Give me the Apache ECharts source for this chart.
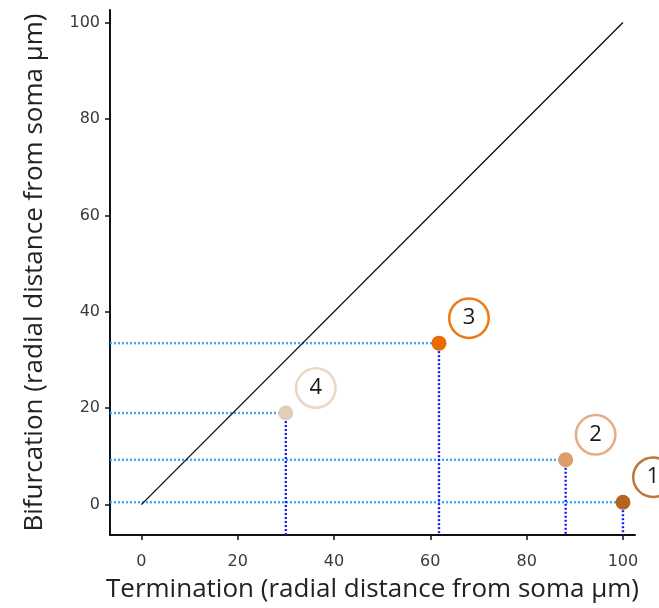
<!DOCTYPE html>
<html>
<head>
<meta charset="utf-8">
<script src="https://cdn.jsdelivr.net/npm/echarts@6/dist/echarts.min.js"></script>
<style>
  html, body { margin: 0; padding: 0; background: #fff; }
  #chart { width: 659px; height: 608px; }
</style>
</head>
<body>
<div id="chart"></div>
<script>
// data
const pointNames = ['1', '2', '3', '4'];
const termination = [100, 88.1, 61.8, 30.0];
const bifurcation = [0.5, 9.3, 33.5, 19.0];
const tickValues = [0, 20, 40, 60, 80, 100];
const diagonal = [[0, 0], [100, 100]];

const pointColors = ['#b5631f', '#de9c66', '#ea6c00', '#e2cdb7'];
const ringColors = ['#c07636', '#e5ae86', '#ee7a14', '#e8d8c6'];

const xMin = -6.5, xMax = 102.5, yMin = -6.3, yMax = 102.6;

let myChart = echarts.init(document.getElementById('chart'));

let series = [];
// dotted guide lines
pointNames.forEach((n, i) => {
  series.push({
    type: 'line',
    silent: true,
    symbol: 'none',
    data: [[xMin, bifurcation[i]], [termination[i], bifurcation[i]]],
    lineStyle: { color: '#3aaaff', width: 2.4, type: [2, 2] },
    z: 2
  });
  series.push({
    type: 'line',
    silent: true,
    symbol: 'none',
    data: [[termination[i], bifurcation[i]], [termination[i], yMin]],
    lineStyle: { color: '#1c1cf5', width: 2.4, type: [2, 2] },
    z: 2
  });
});
// y = x line
series.push({
  type: 'line',
  silent: true,
  symbol: 'none',
  data: diagonal,
  lineStyle: { color: '#111', width: 1.4 },
  z: 3
});
// points with ringed number labels
series.push({
  type: 'scatter',
  symbolSize: 15,
  z: 5,
  itemStyle: { opacity: 1 },
  data: pointNames.map((n, i) => ({
    name: n,
    value: [termination[i], bifurcation[i]],
    itemStyle: { color: pointColors[i], opacity: 1 },
    label: { borderColor: ringColors[i] }
  })),
  label: {
    show: true,
    position: 'inside',
    offset: [30, -25],
    formatter: '{b}',
    width: 37,
    height: 37,
    lineHeight: 37,
    align: 'center',
    verticalAlign: 'middle',
    borderRadius: 20,
    borderWidth: 2.5,
    backgroundColor: '#fff',
    color: '#1a1a1a',
    opacity: 1,
    fontSize: 22,
    fontFamily: 'Open Sans'
  },
  emphasis: { disabled: true }
});

let option = {
  animation: false,
  backgroundColor: '#fff',
  grid: { left: 110, right: 24, top: 10, bottom: 73 },
  xAxis: {
    type: 'value',
    min: xMin,
    max: xMax,
    name: 'Termination (radial distance from soma μm)',
    nameLocation: 'middle',
    nameGap: 42,
    nameTextStyle: { fontSize: 26, color: '#222', fontFamily: 'Open Sans' },
    splitLine: { show: false },
    axisLine: { onZero: false, lineStyle: { color: '#111', width: 2 } },
    axisTick: { customValues: tickValues, length: 5, lineStyle: { color: '#111', width: 1.5 } },
    axisLabel: { customValues: tickValues, margin: 19, fontSize: 16, color: '#3a3a3a', fontFamily: 'DejaVu Sans' }
  },
  yAxis: {
    type: 'value',
    min: yMin,
    max: yMax,
    name: 'Bifurcation (radial distance from soma μm)',
    nameLocation: 'middle',
    nameGap: 62,
    nameTextStyle: { fontSize: 26, color: '#222', fontFamily: 'Open Sans' },
    splitLine: { show: false },
    axisLine: { onZero: false, lineStyle: { color: '#111', width: 2 } },
    axisTick: { customValues: tickValues, length: 5, lineStyle: { color: '#111', width: 1.5 } },
    axisLabel: { customValues: tickValues, margin: 10, fontSize: 16, color: '#3a3a3a', fontFamily: 'DejaVu Sans' }
  },
  series: series
};

myChart.setOption(option);
</script>
</body>
</html>
